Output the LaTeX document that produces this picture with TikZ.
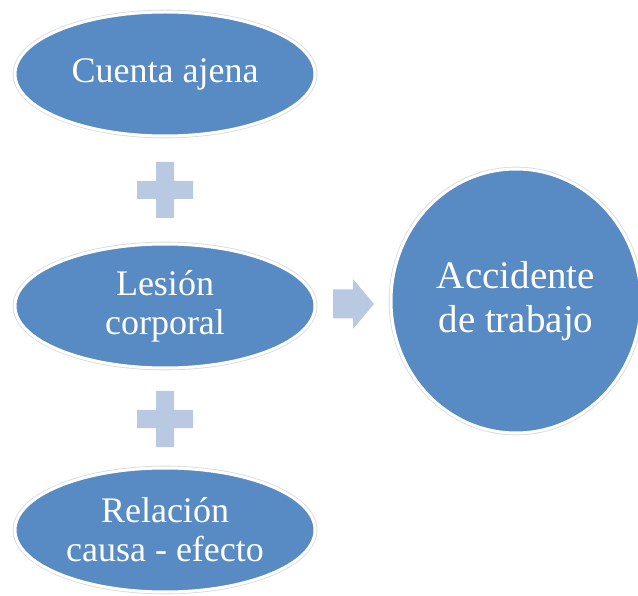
\documentclass[tikz,border=0pt]{standalone}
\usepackage{fontspec}
\setmainfont{Liberation Serif}
\usetikzlibrary{shapes.geometric}

\definecolor{bubbleblue}{RGB}{88,138,195}
\definecolor{signblue}{RGB}{185,201,226}

\tikzset{
  bubble/.style={ellipse, fill=bubbleblue, draw=white, line width=3pt,
    preaction={draw=gray!30, line width=4.6pt},
    text=white, align=center, inner sep=0pt,
    minimum width=300pt, minimum height=124pt,
    font=\fontsize{36}{39}\selectfont},
  sign/.style={fill=signblue}
}

\begin{document}
\begin{tikzpicture}[x=1pt, y=-1pt]

  % picture frame (pixel coordinates, y downwards)
  \useasboundingbox (0,0) rectangle (638,596);

  % left column
  \node[bubble] (cuenta) at (165,74) {Cuenta ajena};
  \node[bubble] (lesion) at (165,306) {Lesión\\corporal};
  \node[bubble] (relacion) at (165,530) {Relación\\causa - efecto};

  % result on the right
  \node[bubble, minimum width=250pt, minimum height=264pt,
        font=\fontsize{39}{44}\selectfont] (accidente) at (516,301) {Accidente\\de trabajo};

  % plus signs between the ellipses
  \coordinate (plusA) at (165,190);
  \coordinate (plusB) at (165,419);
  \foreach \p in {plusA, plusB} {
    \fill[sign] (\p) ++(-9,-28) -- ++(18,0) -- ++(0,19) -- ++(19,0) -- ++(0,18)
      -- ++(-19,0) -- ++(0,19) -- ++(-18,0) -- ++(0,-19) -- ++(-19,0)
      -- ++(0,-18) -- ++(19,0) -- cycle;
  }

  % block arrow towards the result
  \coordinate (arr) at (333,304);
  \fill[sign] (arr) ++(0,-14.5) -- ++(20,0) -- ++(0,-10.5) -- ++(21,25)
    -- ++(-21,25) -- ++(0,-10.5) -- ++(-20,0) -- cycle;

\end{tikzpicture}
\end{document}
